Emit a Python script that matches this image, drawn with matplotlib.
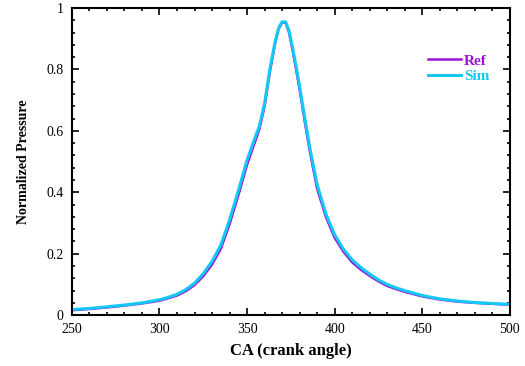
import numpy as np
import matplotlib.pyplot as plt
from matplotlib.ticker import MultipleLocator, FuncFormatter

plt.rcParams['font.family'] = ['Liberation Serif', 'DejaVu Serif']

# crank angle (deg) and normalized pressure
ca = [250, 260, 270, 280, 290, 300, 305, 310, 315, 320, 325, 330, 335, 340,
      345, 350, 355, 357, 360, 363, 366, 368, 370, 372, 374, 376, 378, 380,
      383, 386, 390, 395, 400, 405, 410, 415, 420, 425, 430, 435, 440, 450,
      460, 470, 480, 490, 500]
p_sim = [0.018, 0.022, 0.027, 0.033, 0.040, 0.050, 0.058, 0.068, 0.083, 0.104,
         0.135, 0.175, 0.228, 0.310, 0.405, 0.505, 0.585, 0.615, 0.690, 0.800,
         0.890, 0.935, 0.955, 0.955, 0.925, 0.870, 0.810, 0.745, 0.640, 0.540,
         0.425, 0.330, 0.262, 0.215, 0.180, 0.155, 0.134, 0.115, 0.100, 0.089,
         0.080, 0.064, 0.053, 0.046, 0.041, 0.038, 0.035]
p_ref = [0.016, 0.020, 0.025, 0.031, 0.038, 0.047, 0.055, 0.064, 0.078, 0.098,
         0.127, 0.165, 0.216, 0.296, 0.390, 0.490, 0.572, 0.605, 0.680, 0.792,
         0.885, 0.932, 0.953, 0.952, 0.920, 0.862, 0.800, 0.735, 0.628, 0.528,
         0.412, 0.320, 0.252, 0.207, 0.172, 0.148, 0.128, 0.110, 0.095, 0.085,
         0.076, 0.061, 0.051, 0.044, 0.040, 0.037, 0.034]

fig = plt.figure(figsize=(5.25, 3.66), dpi=100)
ax = fig.add_axes([0.137, 0.139, 0.834, 0.839])

ax.plot(ca, p_ref, color='#9a12d8', lw=1.8, label='Ref')
ax.plot(ca, p_sim, color='#14c8f5', lw=2.2, label='Sim')

ax.set_xlim(250, 500)
ax.set_ylim(0, 1)
ax.xaxis.set_major_locator(MultipleLocator(50))
ax.xaxis.set_minor_locator(MultipleLocator(10))
ax.yaxis.set_major_locator(MultipleLocator(0.2))
ax.yaxis.set_minor_locator(MultipleLocator(0.04))
ax.yaxis.set_major_formatter(FuncFormatter(lambda v, pos: '%g' % round(v, 2)))
ax.tick_params(which='both', direction='in', top=True, right=True,
               labelsize=10, width=1.2)
ax.tick_params(which='major', length=5, pad=6)
ax.tick_params(which='minor', length=2.5)
for s in ax.spines.values():
    s.set_linewidth(1.5)

ax.set_xlabel('CA (crank angle)', fontsize=12, fontweight='bold', labelpad=5)
ax.set_ylabel('Normalized Pressure', fontsize=10, fontweight='bold', labelpad=12)

ax.legend(loc='upper right', bbox_to_anchor=(0.968, 0.87), frameon=False,
          labelcolor='linecolor', handlelength=2.2, handletextpad=0.2,
          labelspacing=0.1, borderaxespad=0,
          prop={'weight': 'bold', 'size': 11})

plt.savefig('out.png', dpi=100)
